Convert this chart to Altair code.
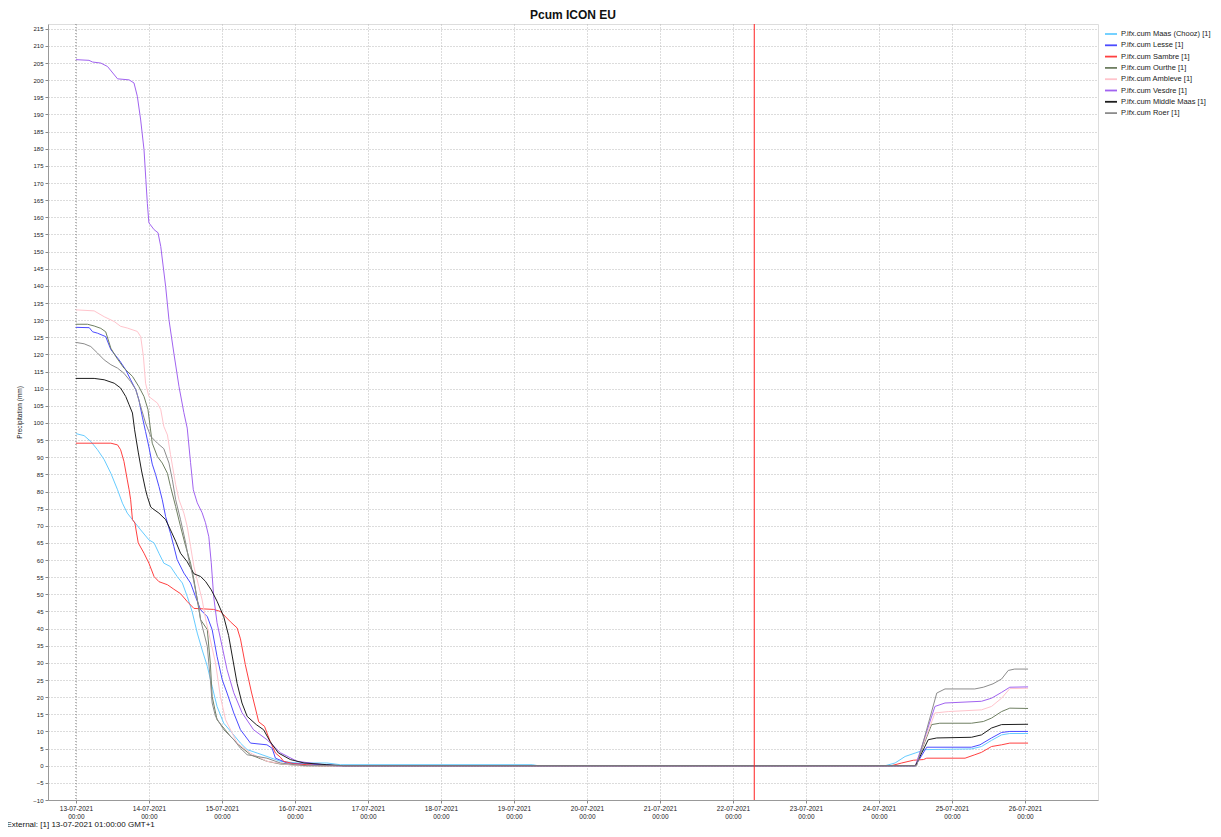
import altair as alt
import pandas as pd

series_names = [
    "P.ifx.cum Maas (Chooz) [1]",
    "P.ifx.cum Lesse [1]",
    "P.ifx.cum Sambre [1]",
    "P.ifx.cum Ourthe [1]",
    "P.ifx.cum Ambleve [1]",
    "P.ifx.cum Vesdre [1]",
    "P.ifx.cum Middle Maas [1]",
    "P.ifx.cum Roer [1]",
]
series_colors = ["#66ccff", "#4b4bff", "#ff4040", "#6f7f62", "#ffc4cc", "#a163f0", "#1e1e1e", "#8c8c8c"]

# hours after 13-07-2021 00:00 and cumulative precipitation (mm)
maas_h = [0, 2.7, 4.9, 7.1, 9.3, 11.5, 13.7, 15.3, 16.9, 18.6, 21.3, 24.0, 25.7, 27.3, 28.9, 31.1, 33.3, 35.0, 36.6, 38.2,
          39.9, 41.5, 43.2, 44.8, 46.4, 48.6, 51.4, 54.1, 56.3, 59.6, 62.8, 67.2, 72.7, 82.5, 86.9, 150, 152, 266, 269.3,
          272.6, 275.9, 279.2, 294.4, 297.7, 301, 304.3, 307, 313]
maas_v = [96.9, 96.3, 94.6, 92.2, 89.3, 85.3, 80.5, 76.6, 73.7, 71.8, 68.8, 65.9, 65.0, 62.0, 59.1, 58.1, 55.2, 53.3, 49.4, 45.0,
          38.7, 33.8, 29.0, 23.1, 17.3, 12.4, 9.5, 6.6, 4.7, 3.7, 2.7, 1.3, 0.8, 0.8, 0.3, 0.3, 0, 0, 0.8,
          2.7, 3.7, 4.7, 4.9, 5.6, 7.4, 9.0, 9.4, 9.4]

lesse_h = [0, 4.4, 5.5, 7.1, 9.8, 11.5, 14.2, 16.4, 18.0, 19.7, 20.7, 21.9, 22.9, 24.0, 25.1, 26.2, 27.3, 28.4, 29.5, 31.1,
           32.2, 33.3, 35.5, 37.7, 39.3, 41.0, 43.2, 44.8, 46.4, 48.1, 49.7, 51.9, 54.1, 57.4, 62.8, 64.5, 65.6, 69.4,
           74.8, 82.5, 86, 276, 279.7, 294.4, 297.2, 301, 304.3, 307, 313]
lesse_v = [127.9, 127.8, 126.6, 126.2, 125.2, 121.4, 118.4, 115.5, 112.6, 109.7, 106.8, 101.5, 97.5, 93.0, 88.0, 85.0, 81.5,
           77.6, 72.7, 67.8, 64.0, 60.1, 56.2, 53.3, 49.4, 45.5, 43.5, 39.7, 31.9, 25.1, 21.2, 15.4, 10.5, 6.6, 6.1, 5.1,
           2.2, 0.8, 0.5, 0.3, 0, 0, 5.4, 5.4, 6.1, 8.1, 9.7, 10.0, 10.0]

sambre_h = [0, 11.5, 13.7, 14.7, 15.8, 16.9, 17.5, 18.0, 18.6, 19.4, 20.5, 22.4, 24.0, 25.7, 27.3, 30.1, 32.2, 34.4, 36.6,
            38.8, 45.3, 47.5, 48.6, 50.8, 53.0, 54.1, 55.7, 57.7, 59.5, 60.1, 62.0, 63.9, 65.6, 67.2, 68.3, 71.5, 75.9,
            80, 268, 271.5, 275.3, 278.6, 279.7, 292.3, 295.5, 297.7, 301, 304.3, 307, 313]
sambre_v = [94.1, 94.1, 93.6, 92.2, 88.8, 83.4, 80.5, 77.6, 71.8, 70.8, 65.0, 62.0, 59.1, 55.2, 53.7, 52.8, 51.5, 50.2, 47.9,
            45.9, 45.6, 45.0, 44.0, 42.0, 40.2, 37.0, 29.5, 21.5, 15.0, 12.8, 11.5, 7.0, 3.7, 2.5, 1.3, 0.6, 0.3,
            0, 0, 0.8, 1.6, 1.8, 2.2, 2.2, 3.2, 3.9, 5.6, 6.1, 6.6, 6.6]

ourthe_h = [0, 3.8, 6.0, 8.2, 9.8, 11.5, 13.1, 15.8, 18.6, 20.7, 22.4, 23.7, 25.1, 26.8, 28.4, 30.1, 31.1, 32.8, 34.4, 36.1,
            37.7, 38.8, 39.9, 41.0, 43.2, 44.2, 44.8, 46.4, 50.8, 54.1, 57.4, 62.8, 67.2, 75, 276, 281.3, 284, 294.4,
            298.3, 301, 304.3, 307, 313]
ourthe_v = [128.8, 128.8, 128.3, 127.6, 126.6, 121.8, 119.4, 116.0, 113.6, 110.6, 107.7, 103.9, 94.1, 90.2, 88.3, 85.3, 81.5,
            75.6, 69.8, 64.0, 59.1, 54.3, 48.4, 42.6, 39.7, 29.9, 20.2, 13.4, 8.6, 5.6, 3.2, 1.3, 0.5, 0, 0, 12.0, 12.4,
            12.4, 12.9, 13.9, 15.8, 16.8, 16.7]

ambleve_h = [0, 6.0, 9.3, 12.6, 14.7, 16.9, 20.2, 21.3, 22.2, 22.9, 24.0, 26.8, 27.9, 28.9, 30.1, 31.1, 32.8, 33.9, 35.5,
             36.6, 37.7, 38.8, 40.4, 41.5, 42.6, 45.9, 47.5, 49.2, 53.0, 57.4, 62.8, 68.3, 74, 276, 282.4, 286.8, 297.7,
             301, 304.3, 307, 313]
ambleve_v = [133.0, 132.7, 131.0, 129.6, 128.2, 127.7, 126.7, 125.2, 119.4, 111.6, 107.7, 105.8, 103.9, 99.0, 96.5, 90.8,
             82.0, 77.6, 73.7, 69.8, 64.0, 58.1, 52.3, 48.4, 43.0, 30.0, 20.2, 13.4, 6.6, 3.7, 1.3, 0.5, 0, 0, 15.4, 15.8,
             16.3, 17.3, 19.7, 22.5, 22.6]

vesdre_h = [0, 4.3, 5.5, 8.2, 10.4, 13.7, 17.5, 19.1, 20.2, 21.3, 22.4, 23.0, 23.5, 24.0, 25.7, 27.0, 27.9, 29.5, 30.6, 32.2,
            33.9, 35.5, 36.6, 37.7, 38.6, 39.9, 41.5, 42.6, 43.7, 44.5, 45.3, 46.4, 48.1, 49.7, 51.9, 54.6, 58.4, 62.8,
            67.2, 72.7, 81.3, 85, 276, 282.4, 285.7, 297.7, 301, 304.3, 307, 313]
vesdre_v = [206.0, 205.8, 205.3, 205.0, 204.0, 200.4, 200.1, 199.2, 195.3, 188.4, 179.7, 171.0, 164.0, 158.4, 156.4, 155.5,
            151.5, 139.9, 130.1, 120.4, 110.6, 103.0, 98.5, 88.4, 80.5, 76.7, 73.8, 70.9, 66.8, 59.2, 49.3, 41.7, 34.7,
            28.0, 21.3, 15.5, 10.5, 7.6, 3.8, 1.3, 0.3, 0, 0, 17.3, 18.3, 18.8, 19.7, 21.4, 22.9, 23.0]

middle_h = [0, 6.0, 9.3, 12.6, 14.7, 16.4, 17.5, 18.6, 19.3, 20.5, 21.6, 22.9, 23.5, 24.6, 25.1, 27.3, 29.5, 31.1, 32.8,
            34.4, 36.6, 38.8, 41.0, 42.6, 44.5, 46.4, 48.6, 50.2, 51.4, 53.0, 54.6, 56.3, 59.3, 61.7, 63.9, 66.6, 70.5,
            75, 82.5, 88, 276, 280.2, 283, 294.4, 297.7, 301, 304.3, 313]
middle_v = [113.0, 113.0, 112.6, 111.6, 110.2, 107.7, 105.3, 102.9, 98.0, 91.5, 86.0, 80.5, 78.5, 75.5, 75.1, 73.7, 71.8,
            68.8, 65.5, 62.0, 59.5, 56.0, 55.2, 53.8, 51.3, 48.0, 43.5, 38.0, 32.0, 24.0, 18.3, 14.4, 12.0, 10.5, 7.0,
            3.7, 1.8, 0.8, 0.3, 0, 0, 7.6, 8.1, 8.3, 9.0, 11.0, 12.0, 12.1]

roer_h = [0, 2.7, 4.9, 7.1, 9.3, 11.5, 13.7, 15.8, 18.0, 19.7, 21.3, 22.9, 24.6, 26.8, 28.9, 30.6, 31.7, 32.8, 34.4, 36.1,
          37.1, 38.2, 39.3, 40.4, 41.0, 43.2, 44.2, 44.8, 45.9, 48.6, 51.9, 54.1, 56.3, 59.6, 62.8, 67.2, 72, 76, 276.4,
          283, 285.7, 295.5, 298.3, 301.5, 304.3, 306.5, 308.6, 313]
roer_v = [123.5, 123.1, 122.3, 120.4, 118.4, 117.0, 116.0, 114.5, 112.1, 109.7, 104.8, 100.0, 96.1, 94.1, 92.5, 88.3, 83.5,
          77.6, 71.8, 65.0, 60.1, 56.2, 51.3, 46.4, 42.6, 34.8, 25.1, 18.3, 14.4, 10.5, 7.6, 5.1, 3.2, 2.7, 2.2, 0.8, 0.3,
          0, 0, 21.2, 22.4, 22.4, 22.9, 23.9, 25.3, 27.8, 28.2, 28.2]

hours_lists = [maas_h, lesse_h, sambre_h, ourthe_h, ambleve_h, vesdre_h, middle_h, roer_h]
value_lists = [maas_v, lesse_v, sambre_v, ourthe_v, ambleve_v, vesdre_v, middle_v, roer_v]

day_ticks = ["2021-07-%02dT00:00:00Z" % d for d in range(13, 27)]
y_ticks = list(range(-10, 216, 5))
forecast_start = "2021-07-13T00:00:00Z"
now_marker = "2021-07-22T07:00:00Z"
x_domain = ["2021-07-12T14:50:00Z", "2021-07-27T00:00:00Z"]
y_domain = [-10, 216.4]

base_time = pd.Timestamp("2021-07-13T00:00:00")
rows = []
for name, hs, vs in zip(series_names, hours_lists, value_lists):
    for h, v in zip(hs, vs):
        t = base_time + pd.Timedelta(hours=h)
        rows.append({"series": name, "time": t.strftime("%Y-%m-%dT%H:%M:%SZ"), "value": v, "order": h})
df = pd.DataFrame(rows)


def to_ms(s):
    return int(pd.Timestamp(s).value // 10**6)


tick_ms = [to_ms(d) for d in day_ticks]
dom_ms = [to_ms(d) for d in x_domain]

FONT = "Liberation Sans"
xscale = alt.Scale(type="utc", domain=dom_ms)
yscale = alt.Scale(domain=y_domain, nice=False, zero=False)

x_axis = alt.Axis(
    values=tick_ms,
    labelExpr="[utcFormat(datum.value, '%d-%m-%Y'), utcFormat(datum.value, '%H:%M')]",
    labelFont=FONT, labelFontSize=6.5, labelColor="#222222", labelLineHeight=8.3, labelPadding=2,
    labelAngle=0, labelFlush=False, labelOverlap=False,
    tickSize=3, tickColor="#888888", domainColor="#999999",
    grid=True, gridDash=[1, 2], gridColor="#b8b8b8", gridWidth=1,
    title="External: [1] 13-07-2021 01:00:00 GMT+1", titleFont=FONT, titleFontSize=8,
    titleFontWeight="normal", titleColor="#111111", titleAnchor="start", titleAlign="left",
    titleX=-42, titleY=24, titleBaseline="middle",
)
y_axis = alt.Axis(
    values=y_ticks, labelFont=FONT, labelFontSize=6, labelColor="#222222", labelPadding=2,
    tickSize=3, tickColor="#888888", domainColor="#999999",
    grid=True, gridDash=[1, 2], gridColor="#b8b8b8", gridWidth=1,
    title="Precipitation (mm)", titleFont=FONT, titleFontSize=6.5, titleFontWeight="normal",
    titleColor="#111111", titlePadding=10,
)

lines = alt.Chart(df).mark_line(strokeWidth=1).encode(
    x=alt.X("time:T", scale=xscale, axis=x_axis),
    y=alt.Y("value:Q", scale=yscale, axis=y_axis),
    color=alt.Color(
        "series:N",
        scale=alt.Scale(domain=series_names, range=series_colors),
        sort=series_names,
        legend=alt.Legend(
            title=None, orient="none", legendX=1056, legendY=3, symbolType="stroke",
            symbolSize=144, symbolStrokeWidth=1.8, labelFont=FONT, labelFontSize=7.5,
            labelColor="#222222", rowPadding=0.3, labelOffset=3, symbolOffset=0, padding=0,
        ),
    ),
    order=alt.Order("order:Q"),
)

start_rule = alt.Chart(pd.DataFrame({"time": [forecast_start]})).mark_rule(
    color="#888888", strokeWidth=1, strokeDash=[1, 2]
).encode(x=alt.X("time:T", scale=xscale))

now_rule = alt.Chart(pd.DataFrame({"time": [now_marker]})).mark_rule(
    color="#ff2020", strokeWidth=1
).encode(x=alt.X("time:T", scale=xscale))

chart = alt.layer(start_rule, lines, now_rule).properties(
    width=1050, height=776,
    title=alt.TitleParams("Pcum ICON EU", font=FONT, fontSize=12, fontWeight="bold", color="#111111",
                          anchor="middle", offset=2),
    autosize=alt.AutoSizeParams(type="none"),
    padding={"left": 40, "top": 16, "right": 115, "bottom": 30},
).configure_view(stroke="#a0a0a0", strokeWidth=1).configure(background="white")

chart.save("out.html", embed_options={"renderer": "svg", "actions": False})
